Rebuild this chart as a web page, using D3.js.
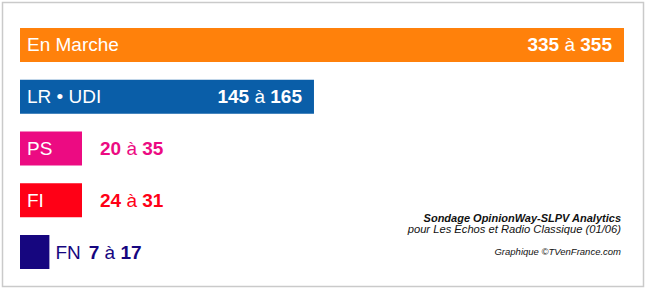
<!DOCTYPE html>
<html>
<head>
<meta charset="utf-8">
<script src="https://cdn.jsdelivr.net/npm/d3@7"></script>
<style>
  body { margin: 0; background: #fff; }
  svg text { font-family: "Liberation Sans", Arial, Helvetica, sans-serif; }
</style>
</head>
<body>
<div id="chart"></div>
<script>
// Projection en sièges (fourchette basse / haute)
const partis = ["En Marche", "LR • UDI", "PS", "FI", "FN"];
const siegesMin = [335, 145, 20, 24, 7];
const siegesMax = [355, 165, 35, 31, 17];
const couleurs = ["#ff810b", "#0a5ea8", "#ec0b82", "#ff0016", "#16067f"];

const source = [
  "Sondage OpinionWay-SLPV Analytics",
  "pour Les Echos et Radio Classique (01/06)",
  "Graphique ©TVenFrance.com"
];

const width = 647, height = 292;

const svg = d3.select("#chart")
  .append("svg")
  .attr("width", width)
  .attr("height", height);

// cadre gris
svg.append("rect")
  .attr("x", 2.5).attr("y", 2.5)
  .attr("width", 641).attr("height", 284)
  .attr("fill", "#fff")
  .attr("stroke", "#cacaca")
  .attr("stroke-width", 1.5);

const data = partis.map((p, i) => ({
  nom: p,
  min: siegesMin[i],
  max: siegesMax[i],
  milieu: (siegesMin[i] + siegesMax[i]) / 2,
  couleur: couleurs[i]
}));

// échelles
const y = d3.scaleBand()
  .domain(partis)
  .range([28, 269])
  .paddingInner(0.343)
  .paddingOuter(0);

const x = d3.scalePow()
  .exponent(0.9)
  .domain([0, d3.max(data, d => d.milieu)])
  .range([0, 604]);

const x0 = 20;

const g = svg.selectAll(".barre")
  .data(data)
  .enter()
  .append("g")
  .attr("class", "barre");

g.append("rect")
  .attr("x", x0)
  .attr("y", d => y(d.nom))
  .attr("width", d => x(d.milieu))
  .attr("height", y.bandwidth())
  .attr("fill", d => d.couleur);

// texte "335 à 355" : chiffres en gras, "à" normal
function valeur(sel) {
  sel.append("tspan").attr("font-weight", "bold").text(d => d.min);
  sel.append("tspan").attr("font-weight", "normal").text(" à ");
  sel.append("tspan").attr("font-weight", "bold").text(d => d.max);
}

g.each(function (d) {
  const grp = d3.select(this);
  const yb = y(d.nom) + y.bandwidth() / 2 + 6.5;
  const fin = x0 + x(d.milieu);

  const nom = grp.append("text")
    .attr("x", x0 + 7)
    .attr("y", yb)
    .attr("font-size", 19)
    .attr("fill", "#fff")
    .text(d.nom);

  const val = grp.append("text")
    .attr("y", yb)
    .attr("font-size", 19)
    .call(valeur);

  const wNom = nom.node().getComputedTextLength();
  const wVal = val.node().getComputedTextLength();

  if (wNom + wVal + 40 < x(d.milieu)) {
    // tout rentre dans la barre
    val.attr("x", fin - 12).attr("text-anchor", "end").attr("fill", "#fff");
  } else if (wNom + 14 < x(d.milieu)) {
    // la fourchette passe à droite
    val.attr("x", fin + 18).attr("fill", d.couleur);
  } else {
    // barre trop petite : tout à droite
    nom.attr("x", fin + 6).attr("fill", d.couleur);
    val.attr("x", fin + 6 + wNom + 8).attr("fill", d.couleur);
  }
});

// source
const src = svg.append("g")
  .attr("text-anchor", "end")
  .attr("fill", "#111");

src.append("text")
  .attr("x", 621).attr("y", 221.5)
  .attr("font-size", 11)
  .attr("font-weight", "bold")
  .attr("font-style", "italic")
  .text(source[0]);

src.append("text")
  .attr("x", 621).attr("y", 233)
  .attr("font-size", 11.2)
  .attr("font-style", "italic")
  .text(source[1]);

src.append("text")
  .attr("x", 621).attr("y", 255)
  .attr("font-size", 9.5)
  .attr("font-style", "italic")
  .text(source[2]);
</script>
</body>
</html>
